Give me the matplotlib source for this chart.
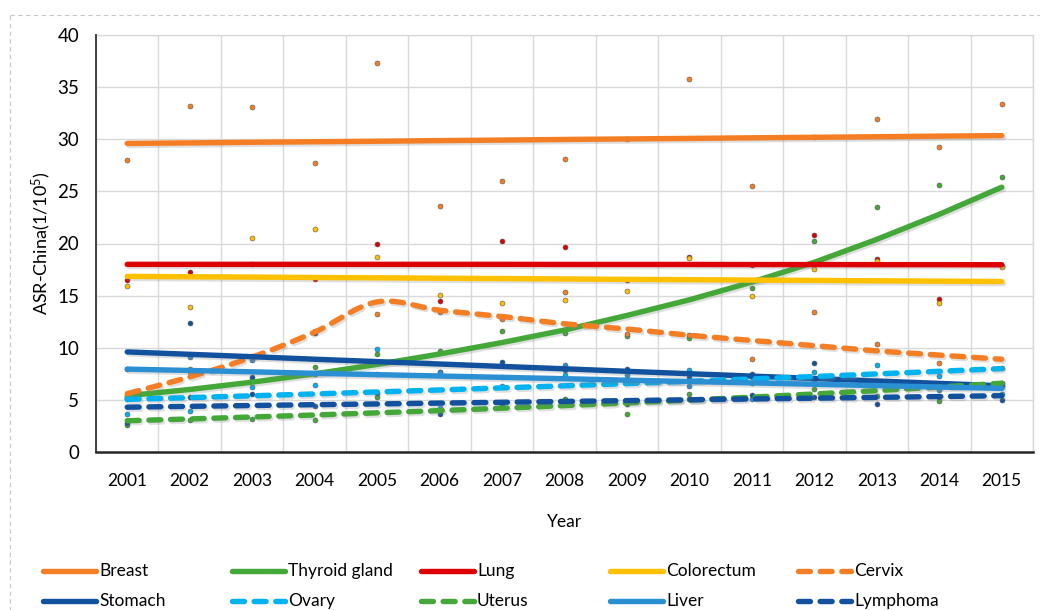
import numpy as np
import matplotlib
matplotlib.use("Agg")
import matplotlib.pyplot as plt
import matplotlib.patheffects as pe
from matplotlib.lines import Line2D
from matplotlib.patches import Rectangle

plt.rcParams['font.family'] = ['Lato', 'DejaVu Sans']
plt.rcParams['mathtext.fontset'] = 'custom'
plt.rcParams['mathtext.rm'] = 'Lato'
plt.rcParams['mathtext.it'] = 'Lato'

# ---------------- data ----------------
years = ['2001', '2002', '2003', '2004', '2005', '2006', '2007', '2008',
         '2009', '2010', '2011', '2012', '2013', '2014', '2015']

breast = [28.0, 33.2, 33.1, 27.7, 37.3, 23.6, 26.0, 28.1, 30.0, 35.8, 25.5, 30.2, 31.9, 29.3, 33.4]
thyroid = [5.1, 8.0, 6.9, 8.2, 9.4, 9.7, 11.6, 11.4, 11.1, 10.9, 15.7, 20.2, 23.5, 25.6, 26.4]
lung = [16.5, 17.3, 18.0, 16.6, 20.0, 14.5, 20.2, 19.7, 16.5, 18.7, 17.9, 20.8, 18.5, 14.7, 17.8]
colorectum = [15.9, 13.9, 20.5, 21.4, 18.7, 15.05, 14.3, 14.6, 15.4, 18.6, 15.0, 17.6, 18.3, 14.3, 17.7]
cervix = [5.3, 7.7, 9.2, 11.6, 13.2, 13.4, 12.75, 15.3, 11.3, 11.2, 8.9, 13.45, 10.4, 8.5, 8.1]
stomach = [8.0, 12.4, 7.2, 11.4, 7.5, 7.7, 8.6, 7.9, 8.0, 7.2, 7.45, 8.5, 6.8, 6.4, 6.3]
ovary = [3.6, 3.9, 6.2, 6.4, 9.9, 4.2, 6.3, 7.4, 6.9, 7.9, 7.2, 7.7, 8.3, 7.3, 5.6]
uterus = [2.6, 3.1, 3.2, 3.1, 5.3, 3.9, 4.3, 5.1, 3.6, 5.6, 6.6, 6.0, 5.4, 4.9, 6.6]
liver = [5.2, 9.1, 8.8, 7.5, 8.6, 7.7, 7.2, 8.3, 7.4, 6.3, 5.1, 6.8, 6.7, 5.9, 6.5]
lymphoma = [2.8, 5.3, 5.6, 4.4, 5.7, 3.6, 4.5, 4.6, 4.6, 5.1, 5.5, 5.3, 4.6, 5.3, 5.0]

# trend lines
breast_trend = [29.60, 29.65, 29.71, 29.76, 29.81, 29.87, 29.92, 29.98, 30.03, 30.08, 30.14, 30.19, 30.24, 30.30, 30.35]
thyroid_trend = [5.4, 6.0, 6.7, 7.5, 8.4, 9.4, 10.5, 11.7, 13.1, 14.6, 16.3, 18.2, 20.4, 22.8, 25.4]
lung_trend = [18.0, 18.0, 18.0, 18.0, 18.0, 18.0, 18.0, 17.99, 17.99, 17.99, 17.98, 17.98, 17.97, 17.97, 17.96]
colorectum_trend = [16.85, 16.81, 16.78, 16.74, 16.71, 16.67, 16.64, 16.60, 16.56, 16.53, 16.49, 16.46, 16.42, 16.39, 16.35]
cervix_trend = [5.6, 7.2, 9.1, 11.5, 14.4, 13.6, 13.0, 12.3, 11.8, 11.2, 10.7, 10.2, 9.7, 9.3, 8.9]
stomach_trend = [9.60, 9.37, 9.14, 8.90, 8.67, 8.44, 8.21, 7.98, 7.74, 7.51, 7.28, 7.05, 6.81, 6.58, 6.35]
ovary_trend = [5.05, 5.22, 5.39, 5.57, 5.76, 5.95, 6.15, 6.35, 6.56, 6.78, 7.01, 7.24, 7.49, 7.74, 8.00]
uterus_trend = [3.00, 3.17, 3.36, 3.55, 3.76, 3.97, 4.20, 4.45, 4.70, 4.98, 5.26, 5.57, 5.89, 6.23, 6.60]
liver_trend = [7.95, 7.82, 7.69, 7.55, 7.42, 7.29, 7.16, 7.03, 6.89, 6.76, 6.63, 6.50, 6.37, 6.23, 6.10]
lymphoma_trend = [4.30, 4.38, 4.46, 4.54, 4.61, 4.69, 4.77, 4.85, 4.93, 5.01, 5.09, 5.16, 5.24, 5.32, 5.40]

names = ['Breast', 'Thyroid gland', 'Lung', 'Colorectum', 'Cervix',
         'Stomach', 'Ovary', 'Uterus', 'Liver', 'Lymphoma']
points = [breast, thyroid, lung, colorectum, cervix, stomach, ovary, uterus, liver, lymphoma]
trends = [breast_trend, thyroid_trend, lung_trend, colorectum_trend, cervix_trend,
          stomach_trend, ovary_trend, uterus_trend, liver_trend, lymphoma_trend]

# ---------------- styles ----------------
ORANGE = '#F57E25'
GREEN = '#43A838'
RED = '#DE0000'
YELLOW = '#FFC000'
DBLUE = '#11519E'
SKY = '#00B2F0'
LBLUE = '#2B8FD3'
colors = [ORANGE, GREEN, RED, YELLOW, ORANGE, DBLUE, SKY, GREEN, LBLUE, DBLUE]
dashed = [False, False, False, False, True, False, True, True, False, True]
smooth = [False, False, False, False, True, False, False, False, False, False]
LW = 3.9
DASH = (2.2, 1.8)


def catmull_rom(x, y, n=16):
    x = np.asarray(x, float)
    y = np.asarray(y, float)
    px = np.concatenate([[2 * x[0] - x[1]], x, [2 * x[-1] - x[-2]]])
    py = np.concatenate([[2 * y[0] - y[1]], y, [2 * y[-1] - y[-2]]])
    xs, ys = [], []
    t = np.linspace(0, 1, n, endpoint=False)
    for i in range(1, len(px) - 2):
        for arr, out in ((px, xs), (py, ys)):
            p0, p1, p2, p3 = arr[i - 1], arr[i], arr[i + 1], arr[i + 2]
            out.extend(0.5 * ((2 * p1) + (-p0 + p2) * t +
                              (2 * p0 - 5 * p1 + 4 * p2 - p3) * t ** 2 +
                              (-p0 + 3 * p1 - 3 * p2 + p3) * t ** 3))
    xs.append(x[-1])
    ys.append(y[-1])
    return np.array(xs), np.array(ys)


shadow = [pe.SimpleLineShadow(offset=(1.2, -1.5), shadow_color='#808080', alpha=0.25),
          pe.Normal()]

# ---------------- figure ----------------
W, H = 1040, 610
fig = plt.figure(figsize=(W / 100, H / 100), dpi=100)
L, R, T, B = 96, 1033, 35, 452
ax = fig.add_axes([L / W, 1 - B / H, (R - L) / W, (B - T) / H])

x = np.arange(len(years))

for i, (pts, c) in enumerate(zip(points, colors)):
    ax.plot(x, pts, linestyle='none', marker='o', markersize=3.6,
            markerfacecolor=c, markeredgecolor='#555555', markeredgewidth=0.4,
            zorder=3 + i * 0.01)

for i, (tr, c) in enumerate(zip(trends, colors)):
    if smooth[i]:
        xx, yy = catmull_rom(x, tr)
    else:
        xx, yy = x, np.asarray(tr)
    ln, = ax.plot(xx, yy, color=c, lw=LW, zorder=4 + i * 0.01,
                  solid_capstyle='round', dash_capstyle='round',
                  solid_joinstyle='round', dash_joinstyle='round')
    if dashed[i]:
        ln.set_dashes(DASH)
    ln.set_path_effects(shadow)

ax.set_xlim(-0.5, len(years) - 0.5)
ax.set_ylim(0, 40)
ax.set_yticks(np.arange(0, 41, 5))
ax.set_xticks(x)
ax.set_xticklabels(years)
ax.set_xticks(np.arange(-0.5, len(years), 1), minor=True)
ax.tick_params(axis='both', which='both', length=0, colors='#000000')
ax.tick_params(axis='y', pad=12, labelsize=13.5)
ax.tick_params(axis='x', pad=15, labelsize=12.5)
ax.grid(True, axis='y', which='major', color='#D9D9D9', lw=1.0)
ax.grid(True, axis='x', which='minor', color='#D9D9D9', lw=1.0)
ax.set_axisbelow(True)
for s in ['top', 'right']:
    ax.spines[s].set_color('#D9D9D9')
    ax.spines[s].set_linewidth(1.0)
ax.spines['left'].set_color('#404040')
ax.spines['left'].set_linewidth(1.4)
ax.spines['bottom'].set_color('#262626')
ax.spines['bottom'].set_linewidth(1.8)
ax.spines['left'].set_zorder(6)
ax.spines['bottom'].set_zorder(6)

ax.set_xlabel('Year', fontsize=12.5, labelpad=18)
ax.set_ylabel('ASR-China(1/10$^{5}$)', fontsize=13)
ax.yaxis.set_label_coords((53 - L) / (R - L), 0.5)

# ---------------- overlay: legend + border ----------------
ov = fig.add_axes([0, 0, 1, 1], facecolor='none')
ov.set_xlim(0, W)
ov.set_ylim(H, 0)
ov.axis('off')
ov.add_patch(Rectangle((10, 15), W + 20, H + 20, fill=False, edgecolor='#C8C8C8',
                       lw=0.8, linestyle=(0, (4, 3))))

col_x = [43, 232, 421, 610, 798]
row_y = [571, 601]
for k, (name, c) in enumerate(zip(names, colors)):
    r, cidx = divmod(k, 5)
    x0 = col_x[cidx]
    y0 = row_y[r]
    hl = Line2D([x0, x0 + 53], [y0, y0], color=c, lw=LW,
                solid_capstyle='round', dash_capstyle='round')
    if dashed[k]:
        hl.set_dashes(DASH)
    ov.add_line(hl)
    ov.text(x0 + 56, y0, name, fontsize=12.5, va='center', ha='left', color='#000000')

fig.savefig('out.png', dpi=100)
